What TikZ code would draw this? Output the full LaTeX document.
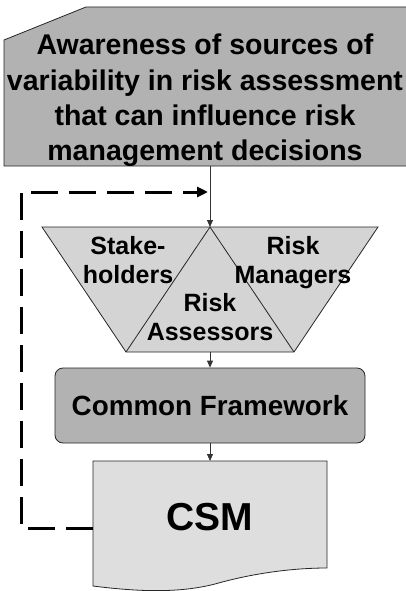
\documentclass[tikz,border=0pt]{standalone}
\usepackage{fontspec}
\setmainfont{Liberation Sans}
\usetikzlibrary{arrows.meta}

\tikzset{
  outline/.style={draw=black!85, line width=0.8pt},
  conn/.style={draw=black!80, line width=0.8pt, -{Triangle[length=7pt,width=6pt]}},
  feedback/.style={line width=3pt, dash pattern=on 27pt off 11pt, -{Triangle[length=11pt,width=10pt]}},
  lbl/.style={font=\bfseries\fontsize{25}{28.5}\selectfont, align=center, inner sep=0pt},
}

\begin{document}
\begin{tikzpicture}[x=1pt,y=1pt]
\useasboundingbox (0,0) rectangle (406,-591);
\clip (0,0) rectangle (406,-591);
% awareness box
\fill[black!30] (4,-40) -- (86,-7) -- (420,-7) -- (420,-166) -- (4,-166) -- cycle;
\draw[outline] (420,-166) -- (4,-166) -- (4,-40) -- (86,-7) -- (420,-7);
\node[lbl, font=\bfseries\fontsize{28.5}{35}\selectfont, anchor=base] (aware) at (205,-160)
  {Awareness of sources of\\variability in risk assessment\\that can influence risk\\management decisions};
\coordinate (awareBot) at (210,-166);
% three triangles
\coordinate (apex) at (210,-227);
\coordinate (topL) at (42,-227);
\coordinate (topR) at (378,-227);
\coordinate (botL) at (126,-352);
\coordinate (botR) at (294,-352);
\coordinate (botM) at (210,-352);
\filldraw[outline, fill=black!17] (topL) -- (topR) -- (botR) -- (botL) -- cycle;
\draw[outline] (botL) -- (apex) -- (botR);
\node[lbl, anchor=base] (stake) at (128,-283) {Stake-\\holders};
\node[lbl, anchor=base] (managers) at (293,-283) {Risk\\Managers};
\node[lbl, anchor=base] (assessors) at (210,-340) {Risk\\Assessors};
% framework
\node[outline, fill=black!30, rounded corners=8pt, minimum width=310pt, minimum height=75pt,
  font=\bfseries\fontsize{27.8}{32}\selectfont] (cf) at (210,-405.5) {Common Framework};
% csm document
\filldraw[outline, fill=black!13] (93,-461) -- (327,-461) -- (327,-568)
  .. controls (290,-568) and (250,-574) .. (215,-584)
  .. controls (180,-593) and (140,-592) .. (93,-586) -- cycle;
\coordinate (csmTop) at (210,-461);
\coordinate (csmLeft) at (93,-528);
\node[font=\bfseries\fontsize{39}{44}\selectfont, anchor=base, inner sep=0pt] (csm) at (210,-530) {CSM};
% connectors
\draw[conn] (awareBot) -- (apex);
\draw[conn] (botM) -- (cf.north);
\draw[conn] (cf.south) -- (csmTop);
\coordinate (fbTurn) at (21,-192);
\coordinate (fbEnd) at (208,-192);
\draw[feedback] (csmLeft) -| (fbTurn) -- (fbEnd);
\end{tikzpicture}
\end{document}
